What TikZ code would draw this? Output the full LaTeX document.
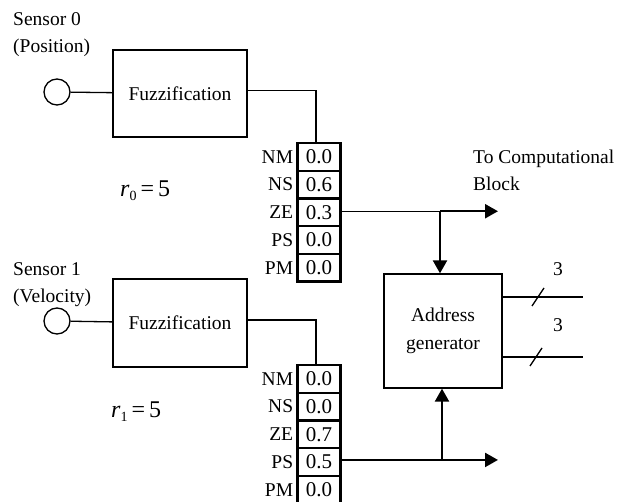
\documentclass[tikz,border=0pt]{standalone}
\usepackage{fontspec}
\setmainfont{Liberation Serif}
\usetikzlibrary{arrows.meta}
\begin{document}
\begin{tikzpicture}[x=1pt,y=-1pt,
  every node/.style={font=\fontsize{19.5}{27}\selectfont, inner sep=0pt},
  thin line/.style={line width=1.3pt},
  thick line/.style={line width=2.3pt},
  box/.style={draw, line width=1.3pt, minimum width=134pt, minimum height=87pt},
  cell/.style={draw, line width=2.3pt, minimum width=43pt, minimum height=27.7pt, font=\fontsize{21}{24}\selectfont},
  lab/.style={anchor=east},
  sensor/.style={draw, circle, line width=1.3pt, minimum size=26pt},
  tip/.style={-{Triangle[length=13pt,width=14pt]}},
  txt/.style={align=left, anchor=north west},
  rlab/.style={anchor=base west, font=\fontsize{24}{24}\selectfont},
]
\useasboundingbox (0,0) rectangle (622,502);

% ---- Sensor 0 ----
\node[txt] (lab0) at (13,12.5) {Sensor 0\\(Position)};
\node[sensor] (s0) at (57,92) {};
\node[box] (fz0) at (180,93.5) {Fuzzification};
\node[rlab] (r0) at (120,197) {\textit{r}\raisebox{-0.35ex}{\fontsize{14}{14}\selectfont 0}\,=\,5};
\foreach \lab/\val [count=\i from 0] in {NM/0.0,NS/0.6,ZE/0.3,PS/0.0,PM/0.0} {
  \node[cell] (t0r\i) at (319,{156.85+27.7*\i}) {\val};
  \node[lab] (t0l\i) at ([xshift=-3pt]t0r\i.west) {\lab};
}

% ---- Sensor 1 ----
\node[txt] (lab1) at (13,262.5) {Sensor 1\\(Velocity)};
\node[sensor] (s1) at (57,321) {};
\node[box, minimum height=88pt] (fz1) at (180,323) {Fuzzification};
\node[rlab] (r1) at (111,418) {\textit{r}\raisebox{-0.35ex}{\fontsize{14}{14}\selectfont 1}\,=\,5};
\foreach \lab/\val [count=\i from 0] in {NM/0.0,NS/0.0,ZE/0.7,PS/0.5,PM/0.0} {
  \node[cell] (t1r\i) at (319,{378.85+27.7*\i}) {\val};
  \node[lab] (t1l\i) at ([xshift=-3pt]t1r\i.west) {\lab};
}

% ---- Address generator ----
\node[draw, line width=1.3pt, minimum width=118pt, minimum height=114pt, align=center,
      font=\fontsize{19.5}{28}\selectfont] (addr) at (443,331) {Address\\generator};
\node[txt] (tocomp) at (473,150) {To Computational\\Block};

% helper coordinates
\coordinate (cx0) at (440,0);
\coordinate (cx1) at (442,0);
\coordinate (cxo) at (498,0);
\coordinate (j0) at ([yshift=1pt]t0r2.east -| cx0);
\coordinate (out0) at ([yshift=1pt]t0r2.east -| cxo);
\coordinate (j1) at ([yshift=2pt]t1r3.east -| cx1);
\coordinate (out1) at ([yshift=2pt]t1r3.east -| cxo);

% ---- connectors ----
\draw[thin line] (s0) -- (fz0);
\draw[thin line] ([yshift=3pt]fz0.east) -| ([xshift=-3pt]t0r0.north);
\draw[thin line] (s1) -- (fz1);
\draw[thin line] ([yshift=3pt]fz1.east) -| ([xshift=-3pt]t1r0.north);

\draw[thin line] (t0r2.east |- j0) -- (j0);
\draw[thick line, tip] (j0) -- (out0);
\draw[thick line, tip] (j0) -- (j0 |- addr.north);

\draw[thin line] (t1r3.east |- j1) -- (j1);
\draw[thick line, tip] (j1) -- (out1);
\draw[thick line, tip] (j1) -- (j1 |- addr.south);

% ---- outputs ----
\coordinate (o1) at (583,297);
\coordinate (o2) at (583,357);
\coordinate (sl1) at (538,297);
\coordinate (sl2) at (536,357);
\draw[thin line] (addr.east |- o1) -- (o1);
\draw[thin line] (addr.east |- o2) -- (o2);
\draw[thin line] ([shift={(-6,9)}]sl1) -- ([shift={(6,-9)}]sl1);
\draw[thin line] ([shift={(-6,9)}]sl2) -- ([shift={(6,-9)}]sl2);
\node (n3a) at (558,269) {3};
\node (n3b) at (558,325) {3};
\end{tikzpicture}
\end{document}
